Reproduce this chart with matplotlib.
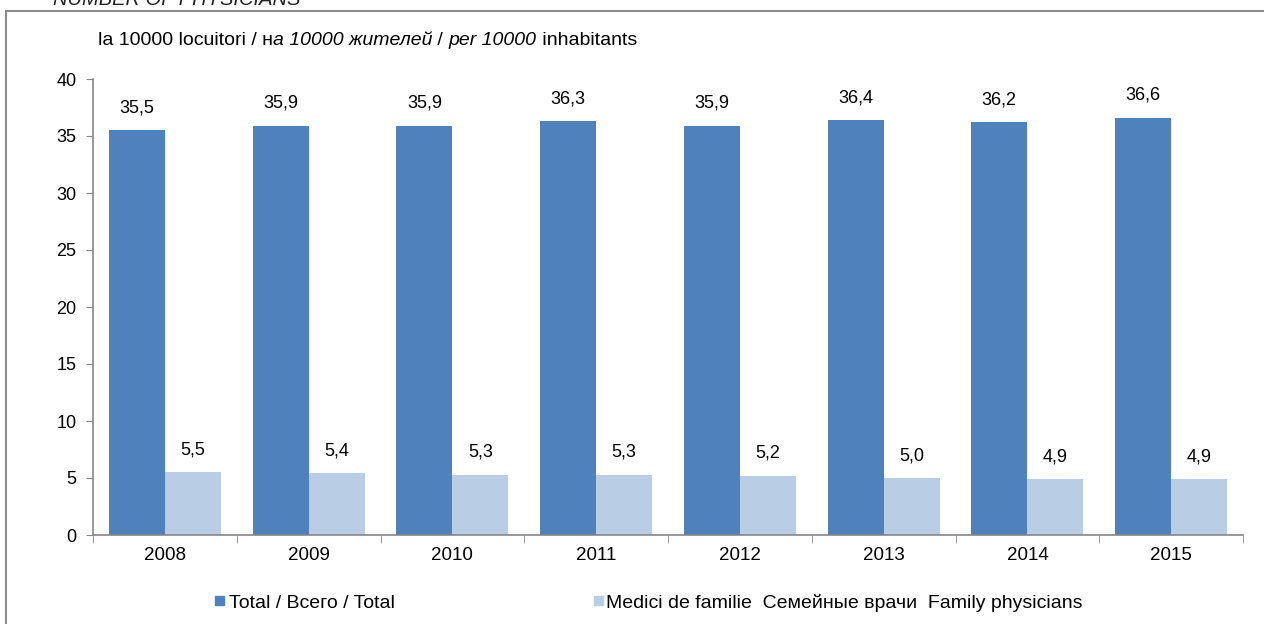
import numpy as np
import matplotlib
matplotlib.use('Agg')
import matplotlib.pyplot as plt
from matplotlib.lines import Line2D

plt.rcParams['font.family'] = ['Liberation Sans', 'DejaVu Sans']

# data
years        = ['2008', '2009', '2010', '2011', '2012', '2013', '2014', '2015']
total        = [35.5, 35.9, 35.9, 36.3, 35.9, 36.4, 36.2, 36.6]
family       = [5.5, 5.4, 5.3, 5.3, 5.2, 5.0, 4.9, 4.9]
series_names = ['Total / Всего / Total',
                'Medici de familie  Семейные врачи  Family physicians']
y_ticks      = [0, 5, 10, 15, 20, 25, 30, 35, 40]

c_dark  = '#4F81BD'
c_light = '#B9CDE5'
c_axis  = '#868686'

W, H = 1264, 624
fig = plt.figure(figsize=(W / 100, H / 100), dpi=100)

# outer frame (clipped at right and bottom in the reference)
fig.add_artist(Line2D([6 / W, 1.0], [1 - 11 / H, 1 - 11 / H], color='#8c8c8c', lw=1.5))
fig.add_artist(Line2D([6 / W, 6 / W], [0, 1 - 11 / H], color='#8c8c8c', lw=1.5))

# title is cut by the top edge, as in the reference
fig.text(53 / W, 1 - 5 / H, 'NUMBER OF PHYSICIANS', fontsize=14.5, style='italic',
         ha='left', va='baseline', color='#222222')

ax = fig.add_axes([93 / W, 1 - 535 / H, (1243 - 93) / W, (535 - 79) / H])

x  = np.arange(len(years))
bw = 0.39
b1 = ax.bar(x - bw / 2, total, bw, color=c_dark, label=series_names[0])
b2 = ax.bar(x + bw / 2, family, bw, color=c_light, label=series_names[1])

for bars, vals in ((b1, total), (b2, family)):
    for rect, v in zip(bars, vals):
        ax.annotate(f'{v:.1f}'.replace('.', ','),
                    (rect.get_x() + rect.get_width() / 2, v),
                    xytext=(0, 10), textcoords='offset points',
                    ha='center', va='bottom', fontsize=13)

ax.set_xlim(-0.5, len(years) - 0.5)
ax.set_ylim(0, 40)
ax.set_yticks(y_ticks)
ax.set_yticklabels([str(t) for t in y_ticks], fontsize=13)
ax.set_xticks(x)
ax.set_xticklabels(years, fontsize=13.5)
ax.set_xticks(np.arange(len(years) + 1) - 0.5, minor=True)
ax.tick_params(axis='x', which='major', length=0, pad=9)
ax.tick_params(axis='x', which='minor', length=6, color=c_axis)
ax.tick_params(axis='y', length=5, color=c_axis, pad=7)

for s in ('top', 'right'):
    ax.spines[s].set_visible(False)
for s in ('left', 'bottom'):
    ax.spines[s].set_color(c_axis)
    ax.spines[s].set_linewidth(1.2)

# subtitle with mixed upright / italic pieces
parts = [('la 10000 locuitori / н', 'normal'), ('а 10000 жителей', 'italic'),
         (' / ', 'normal'), ('per 10000', 'italic'), (' inhabitants', 'normal')]
fig.canvas.draw()
renderer = fig.canvas.get_renderer()
xpos = 98
for txt, st in parts:
    t = fig.text(xpos / W, 1 - 45 / H, txt, fontsize=14, style=st,
                 ha='left', va='baseline')
    bb = t.get_window_extent(renderer)
    xpos = bb.x1

# legend, drawn by hand to keep the wide gap between entries
fig.add_artist(plt.Rectangle((215 / W, 1 - 605 / H), 9 / W, 9 / H, color=c_dark))
fig.text(229 / W, 1 - 608 / H, series_names[0], fontsize=14, va='baseline')
fig.add_artist(plt.Rectangle((594 / W, 1 - 605 / H), 9 / W, 9 / H, color=c_light))
fig.text(606 / W, 1 - 608 / H, series_names[1], fontsize=14, va='baseline')

fig.savefig('out.png', dpi=100)
